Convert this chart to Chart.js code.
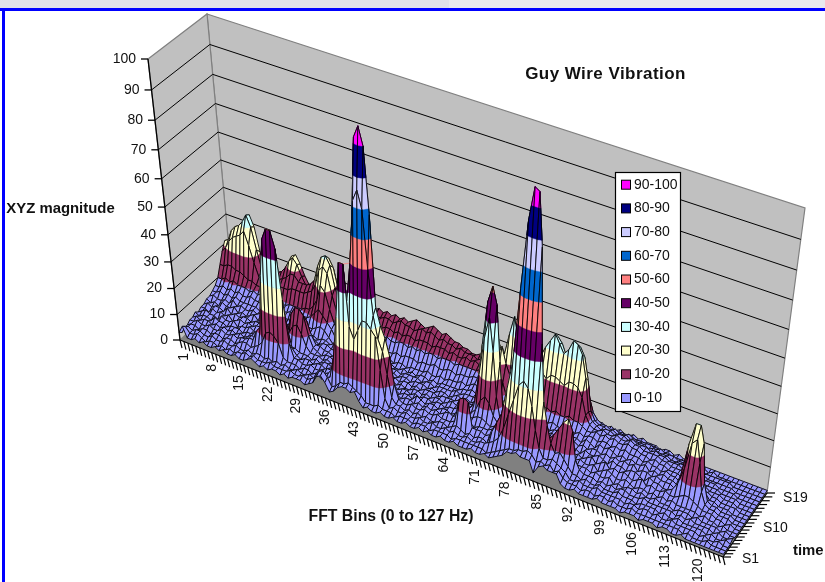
<!DOCTYPE html>
<html><head><meta charset="utf-8">
<script src="https://cdn.jsdelivr.net/npm/chart.js@4"></script>
<style>
html,body{margin:0;padding:0;background:#fff;overflow:hidden}
#wrap{position:relative;width:825px;height:582px}
#a{position:absolute;left:0;top:0;width:449px;height:8px;background:#e0e0ea}
#b{position:absolute;left:449px;top:0;width:376px;height:8px;background:#e9e9ee}
#c{position:absolute;left:0;top:8px;width:825px;height:3px;background:#0000ff}
#d{position:absolute;left:2px;top:8px;width:3px;height:574px;background:#0000ff}
canvas{position:absolute;left:0;top:0}
</style></head><body><div id="wrap"><canvas id="chart" width="825" height="582"></canvas><div id="a"></div><div id="b"></div><div id="c"></div><div id="d"></div></div>
<script>
const TITLE="Guy Wire Vibration", XTITLE="FFT Bins (0 to 127 Hz)", YTITLE="XYZ magnitude", ZTITLE="time";
const MAG_TICKS=[0,10,20,30,40,50,60,70,80,90,100];
const BIN_TICKS=[1,8,15,22,29,36,43,50,57,64,71,78,85,92,99,106,113,120];
const SERIES_TICKS=[1,10,19];
const BAND_LABELS=["0-10","10-20","20-30","30-40","40-50","50-60","60-70","70-80","80-90","90-100"];
const BAND_COLORS=["#9999ff","#993366","#ffffcc","#ccffff","#660066","#ff8080","#0066cc","#ccccff","#000080","#ff00ff"];
const S1=[3,6,2,2,3,2,3,2,2,3, 2,3,2,2,3,2,2,3,4,3, 2,3,2,3,3,2,3,2,3,3, 3,2,3,4,7,8,6,3,4,6, 7,7,6,7,4,2,3,2,2,3, 2,2,3,2,2,3,2,2,3,2, 3,2,2,3,2,2,3,2,2,2, 3,2,2,3,2,3,4,5,7,7, 8,7,7,7,3,6,7,6,6,6, 3,2,2,3,2,2,2,2,3,2, 2,2,2,1,2,2,2,1,2,2, 2,1,2,2,1,1,2,1,1,1, 1,1,1,1,1,1];
const S2=[2,5,3,3,4,3,2,3,3,2, 3,2,3,2,3,3,4,3,4,3, 3,3,4,3,3,3,3,4,3,3, 4,3,4,5,8,9,7,4,5,7, 7,8,7,6,5,3,3,3,4,3, 3,3,2,3,3,3,2,3,3,3, 2,3,3,3,3,2,3,3,3,3, 3,3,3,2,3,4,5,6,7,7, 8,8,9,8,6,7,6,7,5,6, 4,3,3,3,2,3,3,2,3,3, 2,3,2,2,2,3,2,2,2,2, 2,2,2,2,2,2,1,2,1,1, 1,2,1,1,1,1];
const S3=[3,4,3,4,4,3,3,4,3,3, 4,3,3,4,3,3,4,3,4,4, 3,4,3,4,3,4,3,3,4,3, 3,4,3,5,4,5,6,14,30,50, 50,28,24,28,32,32,30,28,16,6, 3,4,3,3,4,3,3,4,3,3, 4,3,3,4,3,4,3,3,4,3, 3,4,4,5,6,8,12,18,24,30, 32,30,24,16,10,7,7,8,7,6, 5,3,3,4,3,3,3,4,3,3, 3,3,3,2,3,3,2,3,3,2, 3,2,2,3,2,2,2,2,2,1, 2,1,1,2,1,1];
const S4=[3,4,4,3,4,4,3,4,4,3, 4,4,3,4,5,5,4,5,6,8, 12,13,12,10,5,4,4,4,3,4, 4,3,4,4,5,6,8,14,24,38, 36,50,72,76,70,50,34,26,22,14, 6,4,4,3,4,3,4,3,4,3, 3,4,4,3,4,5,4,3,4,3, 4,4,3,8,12,16,26,36,62,85, 96,95,78,46,26,18,12,9,10,8, 6,4,4,3,4,3,3,4,3,3, 3,4,3,3,3,2,3,3,3,3, 2,3,2,2,3,2,2,2,2,2, 1,2,1,1,2,1];
const S5=[4,4,5,4,4,5,4,4,5,4, 4,5,4,5,5,6,6,10,12,32, 46,50,50,44,26,10,5,5,4,4, 5,4,4,5,6,6,6,14,20,22, 36,62,92,96,90,68,36,30,26,20, 10,5,4,4,5,4,4,5,4,4, 5,4,4,4,5,14,15,14,5,5, 5,4,5,6,7,10,14,22,36,48, 54,52,42,26,14,12,14,17,20,22, 18,8,5,4,4,4,3,4,3,4, 3,4,4,3,3,3,4,3,3,3, 3,3,3,2,3,2,3,2,2,2, 2,1,2,1,1,2];
const S6=[4,5,4,5,5,4,5,4,5,4, 5,4,5,4,5,6,5,6,8,16, 28,36,36,26,14,7,5,4,5,5, 4,5,5,4,5,6,6,6,8,10, 12,24,50,56,50,30,18,12,8,5, 5,4,5,5,4,5,4,5,4,5, 4,5,6,5,6,7,6,5,4,5, 5,5,6,5,6,6,7,9,12,18, 20,18,14,9,8,7,7,8,9,9, 8,5,5,5,4,5,4,4,5,3, 4,3,4,4,3,4,3,3,4,3, 3,3,2,3,3,3,2,3,2,2, 2,2,1,2,1,1];
const S7=[5,4,5,5,4,6,5,5,4,5, 5,5,4,5,5,6,6,7,6,8, 10,11,10,7,6,6,5,5,5,4, 5,4,5,5,4,5,5,6,6,5, 6,8,16,18,16,9,6,5,4,5, 4,5,5,4,6,5,4,5,5,4, 5,5,4,5,5,4,5,6,7,7, 6,5,6,6,5,6,6,5,6,6, 6,7,6,6,6,5,6,6,5,6, 5,6,5,5,6,4,5,6,5,4, 4,5,4,3,4,4,3,4,3,4, 3,4,3,3,3,3,3,2,3,2, 2,1,2,1,1,1];
const S8=[4,5,6,5,5,4,6,5,5,6, 4,5,5,6,5,5,6,5,5,6, 6,7,8,10,13,14,11,7,5,5, 5,4,5,4,5,5,4,5,4,5, 5,4,5,4,5,4,5,4,5,4, 5,5,4,5,4,5,5,4,5,5, 4,5,5,6,5,5,6,8,12,14, 12,8,6,5,6,5,5,6,5,6, 5,6,6,5,6,6,5,6,6,5, 6,5,6,7,5,6,7,5,6,5, 6,5,4,5,6,4,5,4,4,5, 4,4,5,6,6,5,4,3,3,3, 2,2,1,2,1,1];
const S9=[5,5,4,6,5,6,5,6,4,5, 6,5,6,5,6,6,5,6,6,6, 6,7,9,16,19,19,17,10,6,5, 4,5,5,4,5,4,5,5,4,5, 4,5,4,5,4,5,4,5,4,5, 4,4,5,5,4,5,4,5,5,4, 5,6,5,5,6,6,8,20,34,42, 30,14,6,6,5,6,6,5,6,5, 6,6,5,6,7,6,5,7,6,6, 5,7,6,6,7,6,5,7,6,6, 5,6,6,5,4,6,5,5,4,4, 5,8,14,24,26,18,8,4,3,3, 2,2,2,1,1,1];
const S10=[5,6,5,6,6,5,7,5,6,5, 6,6,5,6,6,5,6,6,6,6, 6,7,8,14,16,16,14,9,6,6, 5,5,4,5,5,5,4,5,5,4, 5,5,4,5,5,4,5,5,4,5, 5,4,5,4,5,5,5,4,5,5, 5,5,6,5,6,6,10,30,46,52, 46,26,8,6,6,6,5,6,6,6, 6,5,6,7,6,6,7,6,7,6, 7,6,7,7,6,7,6,7,6,7, 6,7,5,6,6,5,6,5,5,5, 4,10,22,30,30,24,10,4,3,3, 2,2,2,1,1,1];
const S11=[6,5,6,5,7,6,6,7,5,6, 5,6,7,5,6,6,5,6,6,7, 7,8,7,6,6,6,5,6,5,6, 6,5,5,6,5,4,5,5,4,5, 5,4,5,5,5,4,5,4,5,5, 4,5,5,5,4,5,4,5,5,4, 5,6,5,6,5,6,8,18,24,28, 22,12,7,6,7,6,7,6,6,7, 6,7,6,7,7,6,7,7,7,6, 8,7,6,8,7,8,7,6,7,6, 7,6,6,7,5,6,5,6,5,5, 4,5,6,8,9,6,5,3,3,2, 2,2,1,1,1,1];
const S12=[6,7,6,6,7,6,8,6,7,6, 6,7,6,7,6,7,6,7,6,6, 7,6,7,6,7,6,6,5,6,6, 5,6,5,5,6,5,5,6,5,5, 4,5,5,4,5,5,5,4,5,5, 5,5,4,5,5,4,5,5,5,5, 6,5,6,6,6,6,7,7,8,8, 8,7,7,7,7,6,7,7,6,7, 7,7,8,7,7,8,7,7,8,7, 8,8,7,8,8,7,8,7,8,7, 7,7,6,7,6,6,5,6,5,5, 4,5,4,4,5,4,4,3,3,2, 2,2,2,1,1,1];
const S13=[7,7,8,7,8,7,8,7,7,7, 7,7,6,7,7,6,7,7,7,7, 7,8,7,8,7,7,8,9,8,6, 4,5,4,5,4,5,4,4,5,4, 4,5,4,4,5,4,4,5,4,5, 4,5,5,4,5,4,5,5,5,5, 5,6,6,7,6,7,7,9,14,18, 14,9,9,10,11,10,11,10,11,10, 11,10,11,10,10,11,10,10,9,8, 8,9,8,9,8,9,8,8,9,8, 8,7,7,6,7,6,6,5,5,5, 4,5,4,4,4,4,3,3,3,2, 2,2,1,1,1,1];
const S14=[8,8,9,8,9,8,9,8,8,9, 8,8,7,8,8,8,7,8,8,9, 8,9,9,9,10,12,14,12,10,8, 5,4,5,4,5,4,5,4,4,5, 4,5,4,5,4,5,5,4,5,5, 5,5,6,5,5,6,5,6,6,6, 7,6,7,8,7,8,9,14,22,26, 20,16,14,12,14,15,18,21,22,20, 22,22,21,20,22,22,21,18,12,9, 8,8,9,8,8,9,8,8,9,8, 8,7,7,7,7,6,6,5,5,5, 4,4,4,4,3,3,3,3,2,2, 2,2,1,1,1,1];
const S15=[10,10,11,10,11,10,10,10,9,10, 9,10,9,10,9,10,9,9,10,10, 10,10,11,11,13,16,22,20,14,9, 6,7,6,7,6,6,7,7,6,7, 6,7,6,6,7,6,7,7,7,6, 7,7,7,8,7,7,8,8,7,8, 8,8,9,9,9,12,20,30,24,22, 30,37,28,18,16,18,22,26,30,33, 36,33,30,32,36,35,32,24,12,9, 8,7,8,8,7,8,8,7,8,7, 7,7,6,7,6,6,5,5,5,4, 4,4,3,3,3,3,3,2,2,2, 2,1,1,1,1,1];
const S16=[14,14,15,15,14,14,13,12,12,11, 11,11,12,12,13,14,14,14,15,15, 15,15,16,17,20,26,28,26,18,12, 10,9,9,10,9,10,9,10,9,9, 9,10,9,9,10,10,9,10,9,10, 9,10,10,9,10,10,10,9,10,10, 10,10,10,11,10,12,16,24,20,18, 22,24,20,16,15,17,20,24,28,32, 34,32,28,30,34,33,30,22,11,8, 7,7,6,7,6,6,7,6,6,6, 6,5,6,5,5,5,4,4,4,4, 3,3,3,3,2,2,2,2,2,2, 1,1,1,1,1,1];
const S17=[18,20,23,25,26,27,29,24,18,13, 13,13,13,14,15,16,17,19,19,17, 17,17,18,20,26,30,31,28,20,15, 11,12,12,11,12,11,12,12,12,11, 12,12,11,12,11,12,12,11,12,12, 12,11,12,12,12,11,12,11,11,12, 11,12,11,12,11,12,13,14,14,13, 14,13,13,12,13,13,15,18,21,23, 24,22,20,22,24,23,18,14,9,7, 6,6,5,6,5,5,6,5,5,5, 5,5,4,5,4,4,4,3,3,3, 3,3,2,2,2,2,2,2,2,1, 1,1,1,1,1,1];
const S18=[21,22,26,28,29,31,34,30,22,15, 14,14,15,16,17,19,22,24,22,18, 15,15,16,18,22,28,29,26,18,15, 13,14,14,13,14,13,14,14,13,14, 14,13,14,15,14,14,13,14,15,14, 15,14,13,14,13,13,12,13,12,12, 12,11,12,11,12,12,11,12,11,12, 11,12,11,12,11,12,12,13,13,13, 13,13,13,12,12,11,9,7,5,4, 4,3,4,3,4,3,4,3,3,3, 3,3,3,2,3,2,2,2,2,2, 2,2,2,1,2,1,1,1,1,1, 1,1,1,1,1,1];
const S19=[20,21,25,27,29,30,33,29,20,14, 13,13,14,15,16,19,23,24,21,17, 14,14,15,17,20,22,21,18,15,14, 14,13,14,14,15,14,14,15,14,15, 14,15,14,15,14,15,16,15,14,15, 16,15,14,15,14,13,13,12,12,11, 11,12,11,10,11,10,11,10,11,10, 10,11,10,10,11,11,12,12,11,12, 11,12,11,10,9,8,6,4,3,3, 2,3,2,3,2,2,3,2,3,2, 2,2,1,2,2,1,2,1,1,2, 1,1,1,1,1,1,1,1,1,1, 1,1,1,1,1,1];
const SERIES=[S1,S2,S3,S4,S5,S6,S7,S8,S9,S10,S11,S12,S13,S14,S15,S16,S17,S18,S19];
const BINS=Array.from(S1,(_,i)=>i+1);

// Box corners on the page: [front/back][left/right] at floor and at z = 100
const BOX={FL0:[180,340],FR0:[723,557],BL0:[233,291],BR0:[767,493],FL1:[148,59],FR1:[765,257],BL1:[207,14],BR1:[805,208]};
const PERSP={u:0.105,v:0.10,w:0.114};
const warp=(t,c)=>t/(1+c*(1-t));
const mix=(a,b,t)=>[a[0]+(b[0]-a[0])*t,a[1]+(b[1]-a[1])*t];
function place(u,v,w){
  u=warp(u,PERSP.u);v=warp(v,PERSP.v);w=warp(w,PERSP.w);
  const lo=mix(mix(BOX.FL0,BOX.FR0,u),mix(BOX.BL0,BOX.BR0,u),v);
  const hi=mix(mix(BOX.FL1,BOX.FR1,u),mix(BOX.BL1,BOX.BR1,u),v);
  return mix(lo,hi,w);
}
function clip(poly,limit,keepAbove){
  const out=[];
  for(let i=0;i<poly.length;i++){
    const a=poly[i],b=poly[(i+1)%poly.length];
    const ina=keepAbove?a.m>=limit:a.m<=limit, inb=keepAbove?b.m>=limit:b.m<=limit;
    if(ina)out.push(a);
    if(ina!==inb){const t=(limit-a.m)/(b.m-a.m);out.push({b:a.b+(b.b-a.b)*t,s:a.s+(b.s-a.s)*t,m:limit});}
  }
  return out;
}
const surface={id:'surface',beforeDatasetsDraw(chart){
  const {ctx,scales:{x,y,depth}}=chart;
  const fu=b=>x.getDecimalForPixel(x.getPixelForValue(b));
  const fv=s=>depth.getDecimalForPixel(depth.getPixelForValue(s));
  const fw=m=>y.getDecimalForPixel(y.getPixelForValue(m));
  const P=(b,s,m)=>place(fu(b),fv(s),fw(m));
  const poly=(pts,fill,stroke,lw)=>{ctx.beginPath();pts.forEach((p,i)=>i?ctx.lineTo(p[0],p[1]):ctx.moveTo(p[0],p[1]));ctx.closePath();
    if(fill){ctx.fillStyle=fill;ctx.fill();} if(stroke){ctx.strokeStyle=stroke;ctx.lineWidth=lw||1;ctx.stroke();}};
  const line=(a,b,c,lw)=>{ctx.beginPath();ctx.moveTo(a[0],a[1]);ctx.lineTo(b[0],b[1]);ctx.strokeStyle=c;ctx.lineWidth=lw||1;ctx.stroke();};
  const nB=BINS.length-1,nS=chart.data.datasets.length-1;
  const B0=0,S0=1,S1_=nS+1,T=100;
  poly([P(B0,S1_,T),P(nB,S1_,T),P(nB,S1_,0),P(B0,S1_,0)],'#c0c0c0','#808080',1.2);
  poly([P(B0,S0,T),P(B0,S1_,T),P(B0,S1_,0),P(B0,S0,0)],'#c0c0c0','#808080',1.2);
  poly([P(B0,S0,0),P(nB,S0,0),P(nB,S1_,0),P(B0,S1_,0)],'#808080');
  MAG_TICKS.slice(1,-1).forEach(m=>{line(P(B0,S0,m),P(B0,S1_,m),'#000',1);line(P(B0,S1_,m),P(nB,S1_,m),'#000',1);});
  const ds=chart.data.datasets;
  for(let r=nS-1;r>=0;r--){
    const A=ds[r].data,C=ds[r+1].data;
    for(let b=0;b<nB;b++){
      const q=[{b,s:r+1,m:A[b]},{b:b+1,s:r+1,m:A[b+1]},{b:b+1,s:r+2,m:C[b+1]},{b,s:r+2,m:C[b]}];
      BAND_COLORS.forEach((col,k)=>{
        const lo=k*10,hi=(k+1)*10;
        if(Math.max(...q.map(p=>p.m))<lo||Math.min(...q.map(p=>p.m))>hi)return;
        const piece=clip(clip(q,lo,true),hi,false);
        if(piece.length<3)return;
        poly(piece.map(p=>P(p.b,p.s,p.m)),col,col,0.5);
      });
      poly(q.map(p=>P(p.b,p.s,p.m)),null,'#000',0.9);
    }
  }
  const text=(t,px,py,font,align,base,rot,sp)=>{ctx.save();ctx.translate(px,py);if(rot)ctx.rotate(rot);ctx.font=font;ctx.letterSpacing=sp||'0px';ctx.textAlign=align;ctx.textBaseline=base||'middle';ctx.fillStyle='#111';ctx.fillText(t,0,0);ctx.restore();};
  const small='14px "Liberation Sans"',F='"Liberation Sans"';
  line(P(B0,S0,0),P(B0,S0,T),'#000',1.3);
  MAG_TICKS.forEach(m=>{const p=P(B0,S0,m);line([p[0]-7,p[1]],p,'#000',1.3);text(String(m),p[0]-12,p[1],small,'right');});
  line(P(B0,S0,0),P(nB,S0,0),'#000',1.2);
  BINS.forEach((bin,i)=>{const p=P(i,S0,0);line(p,[p[0]+2,p[1]+8],'#000',1.2);});
  BIN_TICKS.forEach(bin=>{const p=P(bin-1,S0,0);text(String(bin),p[0]+4,p[1]+13,small,'right','middle',-Math.PI/2);});
  line(P(nB,S0,0),P(nB,S1_,0),'#000',1.2);
  for(let s=1;s<=nS+1;s++){const p=P(nB,s,0);line(p,[p[0]+8,p[1]],'#000',1.2);}
  SERIES_TICKS.forEach(s=>{const p=P(nB,s,0);text('S'+s,p[0]+19-(s===19?3:0),p[1]+(s===19?5:2),small,'left');});
  text(TITLE,605.5,74,'bold 17px '+F,'center','middle',0,'0.45px');
  text(XTITLE,391,517,'bold 15.8px '+F,'center');
  text(YTITLE,60.5,209,'bold 14.9px '+F,'center');
  text(ZTITLE,793,551,'bold 14.9px '+F,'left');
  ctx.fillStyle='#fff';ctx.fillRect(615,172,65,239);ctx.strokeStyle='#000';ctx.lineWidth=1.2;ctx.strokeRect(615.5,172.5,65,239);
  BAND_LABELS.forEach((lab,k)=>{const ly=398-k*23.7;
    ctx.fillStyle=BAND_COLORS[k];ctx.fillRect(621.5,ly-4.5,9,9);ctx.strokeStyle='#000';ctx.lineWidth=1;ctx.strokeRect(621.5,ly-4.5,9,9);
    text(lab,634,ly,small,'left');});
}};
new Chart(document.getElementById('chart'),{
  type:'line',
  data:{labels:BINS,datasets:SERIES.map((d,i)=>({label:'S'+(i+1),data:d,showLine:false,pointRadius:0,pointHoverRadius:0}))},
  options:{responsive:false,animation:false,events:[],layout:{padding:0},
    plugins:{legend:{display:false},tooltip:{enabled:false},title:{display:false}},
    scales:{x:{type:'category',display:false},y:{type:'linear',min:0,max:100,display:false},depth:{type:'linear',axis:'y',min:1,max:SERIES.length,display:false}}},
  plugins:[surface]
});
</script></body></html>
